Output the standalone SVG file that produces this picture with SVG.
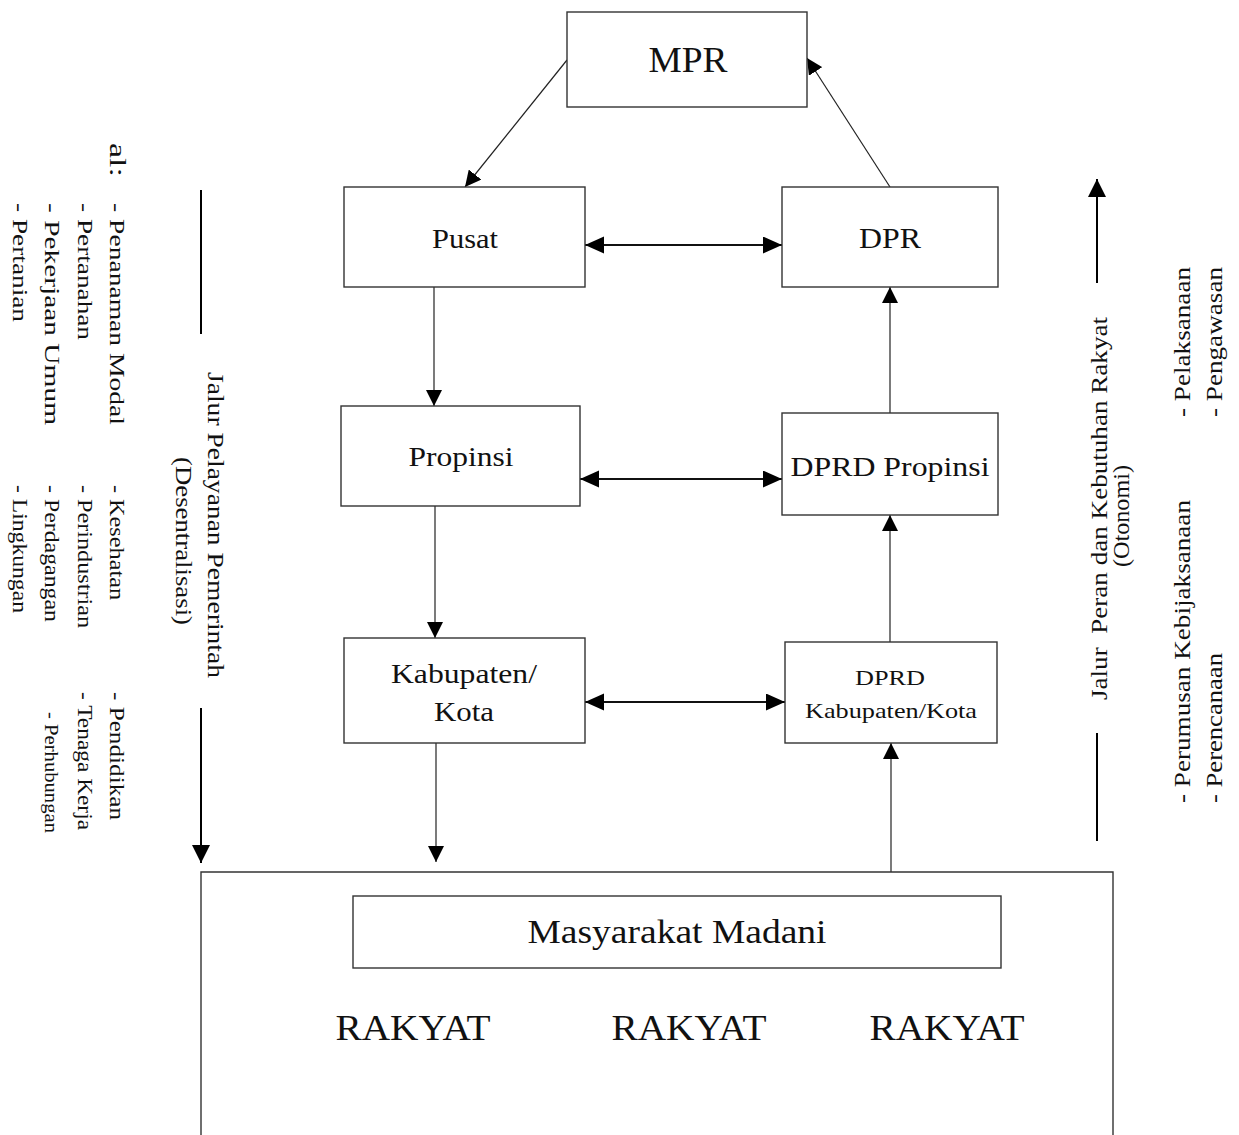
<svg xmlns="http://www.w3.org/2000/svg" width="1239" height="1135" viewBox="0 0 1239 1135">
<style>
.box{fill:#fff;stroke:#333;stroke-width:1.4}
.t{font-family:"Liberation Serif","Times New Roman",serif;fill:#111;text-anchor:middle}
.r{font-family:"Liberation Serif","Times New Roman",serif;fill:#111}
.c{fill:none;stroke:#222;stroke-width:1.2}
.h{fill:none;stroke:#111;stroke-width:1.8}
.b{fill:none;stroke:#000;stroke-width:2}
</style>
<defs>
<marker id="ah" markerUnits="userSpaceOnUse" markerWidth="18" markerHeight="16" refX="16" refY="8" orient="auto-start-reverse">
<path d="M0,0 L16,8 L0,16 Z" fill="#000"/>
</marker>
<marker id="ahh" markerUnits="userSpaceOnUse" markerWidth="20" markerHeight="18" refX="19" refY="8.5" orient="auto-start-reverse">
<path d="M0,0 L19,8.5 L0,17 Z" fill="#000"/>
</marker>
<marker id="ahb" markerUnits="userSpaceOnUse" markerWidth="20" markerHeight="20" refX="18" refY="9" orient="auto-start-reverse">
<path d="M0,0 L18,9 L0,18 Z" fill="#000"/>
</marker>
</defs>
<rect width="1239" height="1135" fill="#fff"/>

<g id="connectors">
<line class="c" x1="567" y1="60" x2="465" y2="187" marker-end="url(#ah)"/>
<line class="c" x1="890" y1="187" x2="807" y2="58" marker-end="url(#ah)"/>
<line class="h" x1="585" y1="245" x2="782" y2="245" marker-start="url(#ahh)" marker-end="url(#ahh)"/>
<line class="c" x1="434" y1="287" x2="434" y2="406" marker-end="url(#ah)"/>
<line class="c" x1="890" y1="413" x2="890" y2="287" marker-end="url(#ah)"/>
<line class="h" x1="580" y1="479" x2="782" y2="479" marker-start="url(#ahh)" marker-end="url(#ahh)"/>
<line class="c" x1="435" y1="506" x2="435" y2="638" marker-end="url(#ah)"/>
<line class="c" x1="890" y1="642" x2="890" y2="515" marker-end="url(#ah)"/>
<line class="h" x1="585" y1="702" x2="785" y2="702" marker-start="url(#ahh)" marker-end="url(#ahh)"/>
<line class="c" x1="436" y1="743" x2="436" y2="862" marker-end="url(#ah)"/>
<line class="c" x1="891" y1="872" x2="891" y2="743" marker-end="url(#ah)"/>
<line class="b" x1="201" y1="190" x2="201" y2="334"/>
<line class="b" x1="201" y1="708" x2="201" y2="863" marker-end="url(#ahb)"/>
<line class="b" x1="1097" y1="283" x2="1097" y2="179" marker-end="url(#ahb)"/>
<line class="b" x1="1097" y1="733" x2="1097" y2="841"/>
</g>

<g id="mpr">
<rect class="box" x="567" y="12" width="240" height="95"/>
<text class="t" x="688" y="72" font-size="36" textLength="79" lengthAdjust="spacingAndGlyphs">MPR</text>
</g>
<g id="pusat">
<rect class="box" x="344" y="187" width="241" height="100"/>
<text class="t" x="465" y="248" font-size="28" textLength="66" lengthAdjust="spacingAndGlyphs">Pusat</text>
</g>
<g id="dpr">
<rect class="box" x="782" y="187" width="216" height="100"/>
<text class="t" x="890" y="248" font-size="29" textLength="62" lengthAdjust="spacingAndGlyphs">DPR</text>
</g>
<g id="propinsi">
<rect class="box" x="341" y="406" width="239" height="100"/>
<text class="t" x="461" y="466" font-size="28" textLength="105" lengthAdjust="spacingAndGlyphs">Propinsi</text>
</g>
<g id="dprd-propinsi">
<rect class="box" x="782" y="413" width="216" height="102"/>
<text class="t" x="890" y="476" font-size="27" textLength="199" lengthAdjust="spacingAndGlyphs">DPRD Propinsi</text>
</g>
<g id="kabupaten">
<rect class="box" x="344" y="638" width="241" height="105"/>
<text class="t" x="464" y="683" font-size="28" textLength="146" lengthAdjust="spacingAndGlyphs">Kabupaten/</text>
<text class="t" x="464" y="721" font-size="28" textLength="60" lengthAdjust="spacingAndGlyphs">Kota</text>
</g>
<g id="dprd-kabupaten">
<rect class="box" x="785" y="642" width="212" height="101"/>
<text class="t" x="890" y="685" font-size="21" textLength="70" lengthAdjust="spacingAndGlyphs">DPRD</text>
<text class="t" x="891" y="718" font-size="22" textLength="172" lengthAdjust="spacingAndGlyphs">Kabupaten/Kota</text>
</g>
<g id="rakyat">
<path class="box" d="M201,1140 L201,872 L1113,872 L1113,1140"/>
<text class="t" x="413" y="1040" font-size="36" textLength="155" lengthAdjust="spacingAndGlyphs">RAKYAT</text>
<text class="t" x="689" y="1040" font-size="36" textLength="155" lengthAdjust="spacingAndGlyphs">RAKYAT</text>
<text class="t" x="947" y="1040" font-size="36" textLength="155" lengthAdjust="spacingAndGlyphs">RAKYAT</text>
</g>
<g id="masyarakat-madani">
<rect class="box" x="353" y="896" width="648" height="72"/>
<text class="t" x="677" y="943" font-size="33" textLength="299" lengthAdjust="spacingAndGlyphs">Masyarakat Madani</text>
</g>

<g id="left-labels" class="r" font-size="21">
<text transform="translate(110,143) rotate(90)" font-size="23" textLength="34" lengthAdjust="spacingAndGlyphs">al:</text>
<text transform="translate(110,203) rotate(90)" textLength="222" lengthAdjust="spacingAndGlyphs">- Penanaman Modal</text>
<text transform="translate(110,485) rotate(90)" textLength="115" lengthAdjust="spacingAndGlyphs">- Kesehatan</text>
<text transform="translate(110,692) rotate(90)" textLength="128" lengthAdjust="spacingAndGlyphs">- Pendidikan</text>
<text transform="translate(78,203) rotate(90)" textLength="137" lengthAdjust="spacingAndGlyphs">- Pertanahan</text>
<text transform="translate(78,485) rotate(90)" textLength="143" lengthAdjust="spacingAndGlyphs">- Perindustrian</text>
<text transform="translate(78,692) rotate(90)" textLength="138" lengthAdjust="spacingAndGlyphs">- Tenaga Kerja</text>
<text transform="translate(45,203) rotate(90)" textLength="222" lengthAdjust="spacingAndGlyphs">- Pekerjaan Umum</text>
<text transform="translate(45,485) rotate(90)" textLength="137" lengthAdjust="spacingAndGlyphs">- Perdagangan</text>
<text transform="translate(45,712) rotate(90)" font-size="19" textLength="121" lengthAdjust="spacingAndGlyphs">- Perhubungan</text>
<text transform="translate(13,203) rotate(90)" textLength="119" lengthAdjust="spacingAndGlyphs">- Pertanian</text>
<text transform="translate(13,485) rotate(90)" textLength="128" lengthAdjust="spacingAndGlyphs">- Lingkungan</text>
</g>
<g id="left-title" class="r" font-size="24">
<text transform="translate(208,372) rotate(90)" textLength="306" lengthAdjust="spacingAndGlyphs">Jalur Pelayanan Pemerintah</text>
<text transform="translate(176,457) rotate(90)" textLength="168" lengthAdjust="spacingAndGlyphs">(Desentralisasi)</text>
</g>
<g id="right-title" class="r" font-size="24">
<text transform="translate(1107,700) rotate(-90)" textLength="383" lengthAdjust="spacingAndGlyphs">Jalur&#160; Peran dan Kebutuhan Rakyat</text>
<text transform="translate(1129,567) rotate(-90)" textLength="102" lengthAdjust="spacingAndGlyphs">(Otonomi)</text>
</g>
<g id="right-labels" class="r" font-size="24">
<text transform="translate(1190,803) rotate(-90)" textLength="303" lengthAdjust="spacingAndGlyphs">- Perumusan Kebijaksanaan</text>
<text transform="translate(1222,803) rotate(-90)" textLength="150" lengthAdjust="spacingAndGlyphs">- Perencanaan</text>
<text transform="translate(1190,417) rotate(-90)" textLength="150" lengthAdjust="spacingAndGlyphs">- Pelaksanaan</text>
<text transform="translate(1222,417) rotate(-90)" textLength="150" lengthAdjust="spacingAndGlyphs">- Pengawasan</text>
</g>
</svg>
